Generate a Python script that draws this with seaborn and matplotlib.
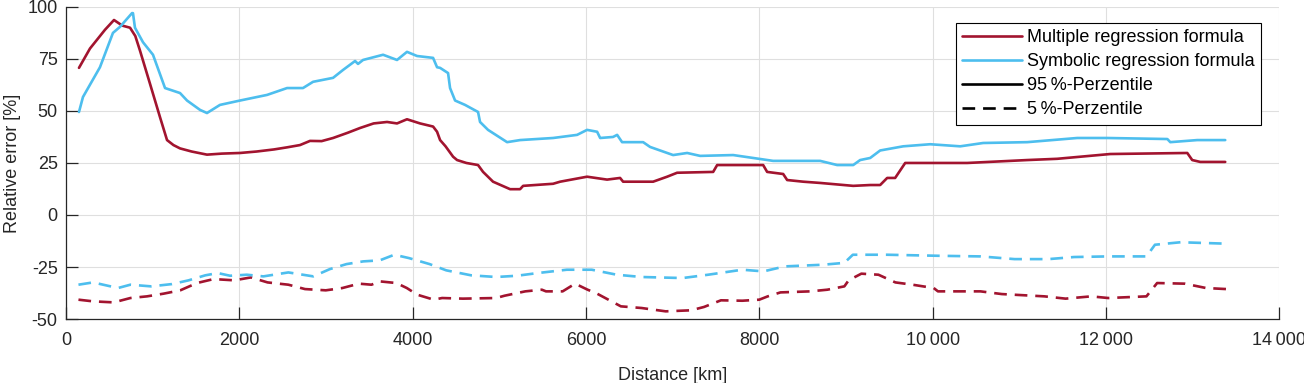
import numpy as np
import pandas as pd
import matplotlib
matplotlib.use('Agg')
import matplotlib.pyplot as plt
import seaborn as sns
from matplotlib.lines import Line2D

# 95 %-percentile, multiple regression formula
dist_mr95 = [150, 277, 450, 554, 650, 739, 800, 854, 970, 1085, 1166, 1240, 1316, 1450, 1627,
             1800, 2008, 2200, 2400, 2550, 2700, 2816, 2950, 3082, 3250, 3393, 3550, 3705, 3820,
             3935, 4086, 4236, 4282, 4317, 4380, 4467, 4513, 4620, 4755, 4813, 4928, 5125, 5240,
             5275, 5621, 5702, 6013, 6244, 6394, 6429, 6775, 6937, 7052, 7468, 7514, 8045, 8091,
             8276, 8322, 8507, 8703, 9084, 9280, 9395, 9476, 9568, 9684, 10400, 11092, 11438,
             12050, 12939, 12996, 13089, 13377]
err_mr95 = [70.7, 80, 89, 93.7, 91, 90, 86, 79, 63, 47, 36, 33.6, 32, 30.5, 29,
            29.5, 29.8, 30.5, 31.5, 32.5, 33.6, 35.6, 35.5, 37, 39.5, 41.8, 44, 44.7, 44,
            46, 44, 42.5, 40, 36, 33, 28, 26.4, 25, 24, 20.7, 16, 12.4, 12.4,
            14, 15, 16, 18.4, 17, 17.8, 16, 16, 18.4, 20.3, 20.7, 24, 24, 20.7,
            19.7, 16.8, 16, 15.4, 14, 14.4, 14.4, 17.8, 17.8, 25, 25, 26.4, 27,
            29.3, 29.8, 26.4, 25.5, 25.5]

# 95 %-percentile, symbolic regression formula
dist_sr95 = [150, 196, 392, 542, 623, 762, 773, 796, 889, 1004, 1143, 1316, 1397, 1547, 1627,
             1777, 2008, 2320, 2551, 2735, 2851, 3082, 3197, 3336, 3370, 3428, 3659, 3820, 3935,
             4051, 4236, 4282, 4317, 4409, 4432, 4490, 4605, 4755, 4778, 4870, 5090, 5240, 5621,
             5898, 6013, 6129, 6164, 6313, 6360, 6417, 6660, 6740, 7006, 7168, 7318, 7699, 7930,
             8160, 8703, 8899, 9084, 9164, 9280, 9395, 9661, 9972, 10319, 10584, 11092, 11669,
             12016, 12709, 12743, 13054, 13377]
err_sr95 = [49.5, 56.7, 71, 87.5, 90.4, 97, 97, 90, 83, 77, 61, 58.6, 55, 50.5, 49,
            52.9, 55, 57.7, 61, 61, 64, 65.9, 69.7, 74, 72.6, 74.5, 77, 74.5, 78.4,
            76.4, 75.5, 71, 70.7, 68.2, 61, 55, 52.9, 49.5, 44.7, 40.9, 35, 36, 37,
            38.5, 40.9, 40, 37, 37.5, 38.5, 35, 35, 32.7, 28.8, 29.8, 28.4, 28.8, 27.4,
            26, 26, 24, 24, 26.4, 27.4, 31, 33, 34, 33, 34.6, 35, 37,
            37, 36.5, 35, 36, 36]

# 5 %-percentile, multiple regression formula
dist_mr5 = [144, 312, 552, 743, 935, 1127, 1319, 1511, 1703, 1942, 2134, 2326, 2566, 2758, 2998,
            3189, 3381, 3525, 3621, 3813, 3933, 4053, 4244, 4340, 4580, 4964, 5060, 5300, 5491,
            5539, 5731, 5875, 6019, 6115, 6259, 6403, 6642, 6920, 7214, 7362, 7558, 7804, 8000,
            8098, 8245, 8589, 8786, 8982, 9031, 9178, 9375, 9571, 9768, 10013, 10062, 10553,
            10799, 11290, 11535, 11830, 12026, 12468, 12591, 12910, 13156, 13390, 13401]
err_mr5 = [-40.7, -41.5, -42, -39.9, -39.1, -37.8, -36.2, -32.7, -30.8, -31.4, -30, -32.4, -33.5, -35.6, -36.2,
           -35.1, -33, -33.5, -31.9, -32.7, -35.1, -38.3, -40.7, -39.9, -40.2, -39.9, -38.8, -36.7, -35.9,
           -36.7, -36.7, -33, -35.9, -37.5, -40.7, -43.9, -44.7, -46.3, -45.8, -44.2, -41, -41.2, -40.7,
           -39.1, -37.2, -36.7, -35.9, -34.3, -31.4, -28.2, -28.7, -32.4, -33.5, -35.1, -36.7, -36.7,
           -38, -39.1, -40.2, -39.1, -39.9, -39.1, -32.7, -33, -35.1, -35.6, -33]

# 5 %-percentile, symbolic regression formula
dist_sr5 = [144, 312, 600, 743, 983, 1223, 1415, 1607, 1751, 1894, 2086, 2278, 2566, 2854, 3045,
            3237, 3429, 3621, 3789, 3957, 4196, 4388, 4676, 4964, 5204, 5444, 5779, 6067, 6355,
            6642, 7116, 7411, 7804, 8049, 8295, 8737, 8982, 9080, 9473, 10062, 10553, 10946,
            11339, 11633, 12026, 12468, 12566, 12861, 13401]
err_sr5 = [-33.5, -32.4, -35.1, -33.5, -34.3, -33.2, -31.4, -29, -27.9, -29.2, -28.7, -29.5, -27.6, -29.5, -26,
           -23.6, -22.3, -21.8, -19.1, -20.7, -23.6, -26.6, -29, -29.8, -29.2, -27.9, -26.3, -26.3, -28.7,
           -29.8, -30.3, -28.7, -26.3, -27.1, -24.7, -23.9, -23, -19.1, -19.1, -19.6, -19.9, -21.2,
           -21.2, -20.2, -19.9, -19.9, -14.3, -13.1, -13.8]

x_ticks = [0, 2000, 4000, 6000, 8000, 10000, 12000, 14000]
x_ticklabels = ['0', '2000', '4000', '6000', '8000', '10\u2009000', '12\u2009000', '14\u2009000']
y_ticks = [-50, -25, 0, 25, 50, 75, 100]

red = '#A2142F'
blue = '#4DBEEE'
txt = '#262626'
fs = 13

sns.set_style('white')
plt.rcParams['font.family'] = ['Liberation Sans', 'DejaVu Sans']
plt.rcParams['axes.unicode_minus'] = False
plt.rcParams['font.size'] = fs

fig = plt.figure(figsize=(13.04, 3.83), dpi=100)
ax = fig.add_axes([0.0506, 0.167, 0.9304, 0.815])

lw = 1.9
dash = (4.8, 3.0)
sns.lineplot(x=dist_mr95, y=err_mr95, color=red, lw=lw, ax=ax, estimator=None, sort=False)
sns.lineplot(x=dist_sr95, y=err_sr95, color=blue, lw=lw, ax=ax, estimator=None, sort=False)
l1 = sns.lineplot(x=dist_mr5, y=err_mr5, color=red, lw=lw, ax=ax, estimator=None, sort=False).lines[-1]
l1.set_dashes(dash)
l2 = sns.lineplot(x=dist_sr5, y=err_sr5, color=blue, lw=lw, ax=ax, estimator=None, sort=False).lines[-1]
l2.set_dashes(dash)

ax.set_xlim(0, 14000)
ax.set_ylim(-50, 100)
ax.set_xticks(x_ticks)
ax.set_xticklabels(x_ticklabels)
ax.set_yticks(y_ticks)
ax.grid(True, color='#DFDFDF', lw=0.8)
for s in ['top', 'right']:
    ax.spines[s].set_visible(False)
for s in ['left', 'bottom']:
    ax.spines[s].set_color(txt)
    ax.spines[s].set_linewidth(0.9)
ax.tick_params(direction='in', length=8.5, width=0.9, color=txt, labelcolor=txt,
               labelsize=fs, bottom=True, left=True)
ax.tick_params(axis='x', pad=9)
ax.tick_params(axis='y', pad=6)
ax.set_xlabel('Distance [km]', color=txt, fontsize=fs)
ax.set_ylabel('Relative error [%]', color=txt, fontsize=fs)
ax.xaxis.set_label_coords(0.5, -0.155)
ax.yaxis.set_label_coords(-0.037, 0.5)

handles = [Line2D([], [], color=red, lw=lw),
           Line2D([], [], color=blue, lw=lw),
           Line2D([], [], color='black', lw=lw),
           Line2D([], [], color='black', lw=lw, dashes=dash)]
labels = ['Multiple regression formula', 'Symbolic regression formula',
          '95\u2009%-Perzentile', '5\u2009%-Perzentile']
leg = ax.legend(handles, labels, loc='upper right', bbox_to_anchor=(0.985, 0.949),
                borderaxespad=0, frameon=True, fancybox=False, fontsize=fs,
                handlelength=3.3, handletextpad=0.3, labelspacing=0.39,
                borderpad=0.35, framealpha=1)
leg.get_frame().set_edgecolor('black')
leg.get_frame().set_linewidth(0.8)
for t in leg.get_texts():
    t.set_color('black')

fig.savefig('out.png', dpi=100)
